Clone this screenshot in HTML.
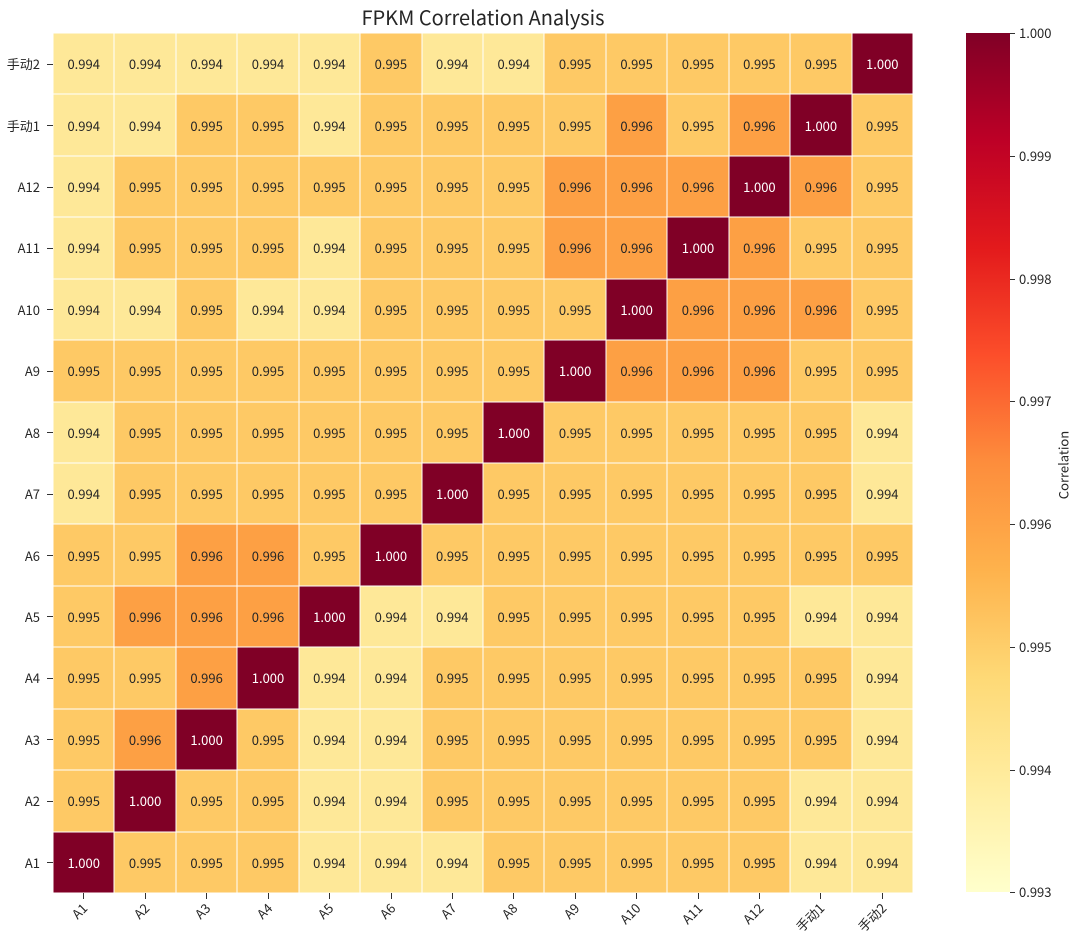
<!DOCTYPE html>
<html><head><meta charset="utf-8"><style>
body{margin:0;width:1080px;height:945px;background:#fff;position:relative;overflow:hidden;font-family:"Noto Sans CJK SC","Liberation Sans",sans-serif;color:#262626}
#g{position:absolute;left:53px;top:33px;width:860px;height:860px;display:grid;grid-template-columns:repeat(14,1fr);grid-template-rows:repeat(14,1fr);background:#fff}
#g div{box-shadow:inset 0 0 0 0.5px #fff;display:flex;align-items:center;justify-content:center;font-size:13px}
.a{background:#fee898}.b{background:#fec965}.c{background:#fda044}.d{background:#800026;color:#fff}
.yl{position:absolute;right:1040px;font-size:13px;text-align:right;white-space:nowrap;line-height:18px}
.yt{position:absolute;left:47px;width:6px;height:1px;background:#333}
.xt{position:absolute;top:893px;width:1px;height:6px;background:#333}
.xl{position:absolute;top:900px;font-size:13px;line-height:16px;white-space:nowrap;transform-origin:right top;transform:rotate(-45deg)}
.ct{position:absolute;left:1010px;width:5px;height:1px;background:#333}
.cl{position:absolute;left:1019px;font-size:13px;line-height:16px}
</style></head><body>
<div style="position:absolute;top:3px;left:0;width:966px;text-align:center;font-size:20px;line-height:28px">FPKM Correlation Analysis</div>
<div id="g">
<div class="a">0.994</div><div class="a">0.994</div><div class="a">0.994</div><div class="a">0.994</div><div class="a">0.994</div><div class="b">0.995</div><div class="a">0.994</div><div class="a">0.994</div><div class="b">0.995</div><div class="b">0.995</div><div class="b">0.995</div><div class="b">0.995</div><div class="b">0.995</div><div class="d">1.000</div>
<div class="a">0.994</div><div class="a">0.994</div><div class="b">0.995</div><div class="b">0.995</div><div class="a">0.994</div><div class="b">0.995</div><div class="b">0.995</div><div class="b">0.995</div><div class="b">0.995</div><div class="c">0.996</div><div class="b">0.995</div><div class="c">0.996</div><div class="d">1.000</div><div class="b">0.995</div>
<div class="a">0.994</div><div class="b">0.995</div><div class="b">0.995</div><div class="b">0.995</div><div class="b">0.995</div><div class="b">0.995</div><div class="b">0.995</div><div class="b">0.995</div><div class="c">0.996</div><div class="c">0.996</div><div class="c">0.996</div><div class="d">1.000</div><div class="c">0.996</div><div class="b">0.995</div>
<div class="a">0.994</div><div class="b">0.995</div><div class="b">0.995</div><div class="b">0.995</div><div class="a">0.994</div><div class="b">0.995</div><div class="b">0.995</div><div class="b">0.995</div><div class="c">0.996</div><div class="c">0.996</div><div class="d">1.000</div><div class="c">0.996</div><div class="b">0.995</div><div class="b">0.995</div>
<div class="a">0.994</div><div class="a">0.994</div><div class="b">0.995</div><div class="a">0.994</div><div class="a">0.994</div><div class="b">0.995</div><div class="b">0.995</div><div class="b">0.995</div><div class="b">0.995</div><div class="d">1.000</div><div class="c">0.996</div><div class="c">0.996</div><div class="c">0.996</div><div class="b">0.995</div>
<div class="b">0.995</div><div class="b">0.995</div><div class="b">0.995</div><div class="b">0.995</div><div class="b">0.995</div><div class="b">0.995</div><div class="b">0.995</div><div class="b">0.995</div><div class="d">1.000</div><div class="c">0.996</div><div class="c">0.996</div><div class="c">0.996</div><div class="b">0.995</div><div class="b">0.995</div>
<div class="a">0.994</div><div class="b">0.995</div><div class="b">0.995</div><div class="b">0.995</div><div class="b">0.995</div><div class="b">0.995</div><div class="b">0.995</div><div class="d">1.000</div><div class="b">0.995</div><div class="b">0.995</div><div class="b">0.995</div><div class="b">0.995</div><div class="b">0.995</div><div class="a">0.994</div>
<div class="a">0.994</div><div class="b">0.995</div><div class="b">0.995</div><div class="b">0.995</div><div class="b">0.995</div><div class="b">0.995</div><div class="d">1.000</div><div class="b">0.995</div><div class="b">0.995</div><div class="b">0.995</div><div class="b">0.995</div><div class="b">0.995</div><div class="b">0.995</div><div class="a">0.994</div>
<div class="b">0.995</div><div class="b">0.995</div><div class="c">0.996</div><div class="c">0.996</div><div class="b">0.995</div><div class="d">1.000</div><div class="b">0.995</div><div class="b">0.995</div><div class="b">0.995</div><div class="b">0.995</div><div class="b">0.995</div><div class="b">0.995</div><div class="b">0.995</div><div class="b">0.995</div>
<div class="b">0.995</div><div class="c">0.996</div><div class="c">0.996</div><div class="c">0.996</div><div class="d">1.000</div><div class="a">0.994</div><div class="a">0.994</div><div class="b">0.995</div><div class="b">0.995</div><div class="b">0.995</div><div class="b">0.995</div><div class="b">0.995</div><div class="a">0.994</div><div class="a">0.994</div>
<div class="b">0.995</div><div class="b">0.995</div><div class="c">0.996</div><div class="d">1.000</div><div class="a">0.994</div><div class="a">0.994</div><div class="b">0.995</div><div class="b">0.995</div><div class="b">0.995</div><div class="b">0.995</div><div class="b">0.995</div><div class="b">0.995</div><div class="b">0.995</div><div class="a">0.994</div>
<div class="b">0.995</div><div class="c">0.996</div><div class="d">1.000</div><div class="b">0.995</div><div class="a">0.994</div><div class="a">0.994</div><div class="b">0.995</div><div class="b">0.995</div><div class="b">0.995</div><div class="b">0.995</div><div class="b">0.995</div><div class="b">0.995</div><div class="b">0.995</div><div class="a">0.994</div>
<div class="b">0.995</div><div class="d">1.000</div><div class="b">0.995</div><div class="b">0.995</div><div class="a">0.994</div><div class="a">0.994</div><div class="b">0.995</div><div class="b">0.995</div><div class="b">0.995</div><div class="b">0.995</div><div class="b">0.995</div><div class="b">0.995</div><div class="a">0.994</div><div class="a">0.994</div>
<div class="d">1.000</div><div class="b">0.995</div><div class="b">0.995</div><div class="b">0.995</div><div class="a">0.994</div><div class="a">0.994</div><div class="a">0.994</div><div class="b">0.995</div><div class="b">0.995</div><div class="b">0.995</div><div class="b">0.995</div><div class="b">0.995</div><div class="a">0.994</div><div class="a">0.994</div>
</div>
<div class="yl" style="top:55px">手动2</div><div class="yl" style="top:117px">手动1</div><div class="yl" style="top:178px">A12</div><div class="yl" style="top:239px">A11</div><div class="yl" style="top:301px">A10</div><div class="yl" style="top:362px">A9</div><div class="yl" style="top:424px">A8</div><div class="yl" style="top:485px">A7</div><div class="yl" style="top:547px">A6</div><div class="yl" style="top:608px">A5</div><div class="yl" style="top:669px">A4</div><div class="yl" style="top:731px">A3</div><div class="yl" style="top:792px">A2</div><div class="yl" style="top:854px">A1</div>
<div class="yt" style="top:64px"></div><div class="yt" style="top:125px"></div><div class="yt" style="top:187px"></div><div class="yt" style="top:248px"></div><div class="yt" style="top:309px"></div><div class="yt" style="top:371px"></div><div class="yt" style="top:432px"></div><div class="yt" style="top:494px"></div><div class="yt" style="top:555px"></div><div class="yt" style="top:616px"></div><div class="yt" style="top:678px"></div><div class="yt" style="top:739px"></div><div class="yt" style="top:801px"></div><div class="yt" style="top:862px"></div>
<div class="xt" style="left:83px"></div><div class="xt" style="left:145px"></div><div class="xt" style="left:206px"></div><div class="xt" style="left:268px"></div><div class="xt" style="left:329px"></div><div class="xt" style="left:391px"></div><div class="xt" style="left:452px"></div><div class="xt" style="left:513px"></div><div class="xt" style="left:575px"></div><div class="xt" style="left:636px"></div><div class="xt" style="left:698px"></div><div class="xt" style="left:759px"></div><div class="xt" style="left:820px"></div><div class="xt" style="left:882px"></div>
<div class="xl" style="right:1001px">A1</div><div class="xl" style="right:939px">A2</div><div class="xl" style="right:878px">A3</div><div class="xl" style="right:816px">A4</div><div class="xl" style="right:755px">A5</div><div class="xl" style="right:693px">A6</div><div class="xl" style="right:632px">A7</div><div class="xl" style="right:571px">A8</div><div class="xl" style="right:509px">A9</div><div class="xl" style="right:448px">A10</div><div class="xl" style="right:386px">A11</div><div class="xl" style="right:325px">A12</div><div class="xl" style="right:264px">手动1</div><div class="xl" style="right:202px">手动2</div>
<div style="position:absolute;left:966px;top:33px;width:44px;height:859px;background:linear-gradient(to top,#ffffcc 0%,#ffeda0 12.5%,#fed976 25%,#feb24c 37.5%,#fd8d3c 50%,#fc4e2a 62.5%,#e31a1c 75%,#bd0026 87.5%,#800026 100%)"></div>
<div class="ct" style="top:33px"></div><div class="ct" style="top:156px"></div><div class="ct" style="top:279px"></div><div class="ct" style="top:401px"></div><div class="ct" style="top:524px"></div><div class="ct" style="top:647px"></div><div class="ct" style="top:770px"></div><div class="ct" style="top:892px"></div>
<div class="cl" style="top:25px">1.000</div><div class="cl" style="top:148px">0.999</div><div class="cl" style="top:271px">0.998</div><div class="cl" style="top:393px">0.997</div><div class="cl" style="top:516px">0.996</div><div class="cl" style="top:639px">0.995</div><div class="cl" style="top:762px">0.994</div><div class="cl" style="top:884px">0.993</div>
<div style="position:absolute;left:1063px;top:465px;font-size:13px;transform:translate(-50%,-50%) rotate(-90deg);white-space:nowrap">Correlation</div>
</body></html>
